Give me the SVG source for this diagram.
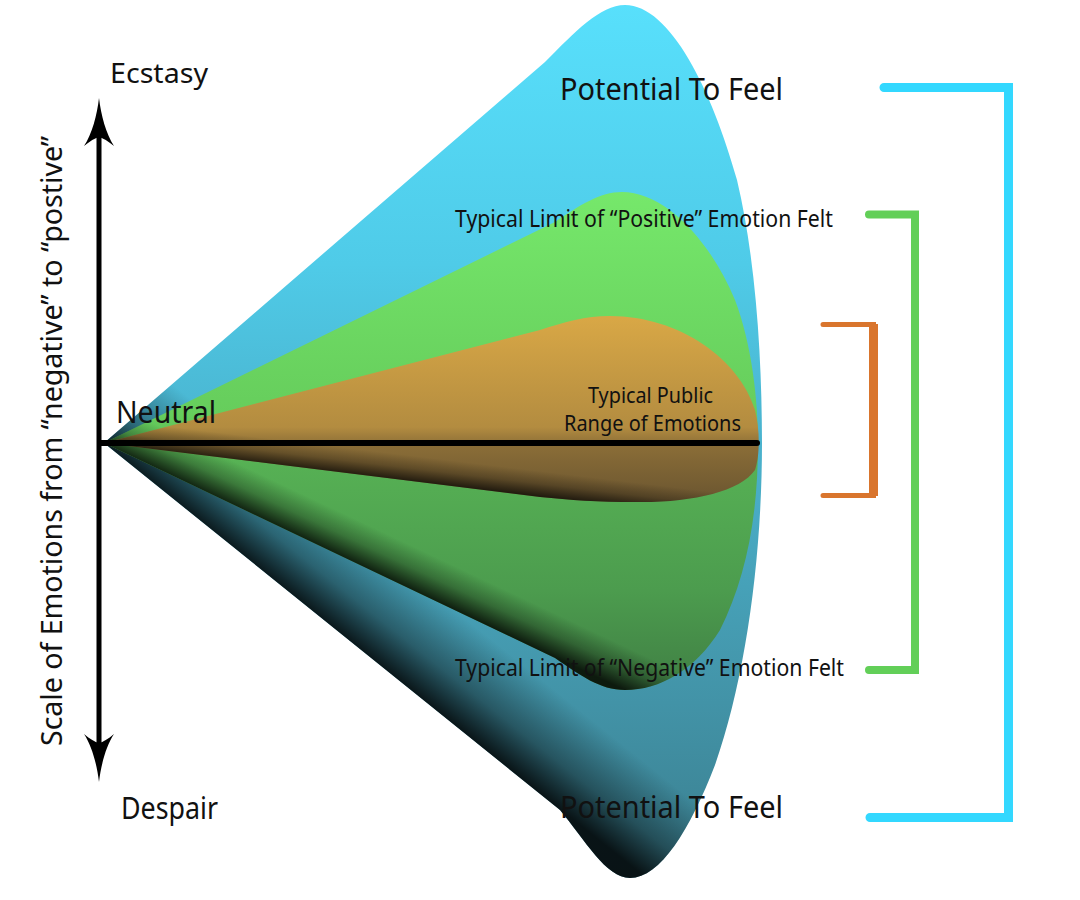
<svg xmlns="http://www.w3.org/2000/svg" width="1080" height="900" viewBox="0 0 1080 900">
  <defs>
    <style>
      .lbl { font-family: "Noto Sans", "Open Sans", "DejaVu Sans", sans-serif; fill: #111; }
      .br { fill: none; stroke-linecap: round; stroke-linejoin: miter; }
    </style>
    <linearGradient id="gBlue" gradientUnits="userSpaceOnUse" x1="0" y1="0" x2="0" y2="880">
      <stop offset="0" stop-color="#58e0fc"/>
      <stop offset="0.3" stop-color="#4fcbe8"/>
      <stop offset="0.5" stop-color="#4ab3ce"/>
      <stop offset="0.75" stop-color="#4498ad"/>
      <stop offset="1" stop-color="#3a7e8e"/>
    </linearGradient>
    <linearGradient id="gGreen" gradientUnits="userSpaceOnUse" x1="0" y1="190" x2="0" y2="690">
      <stop offset="0" stop-color="#76e86b"/>
      <stop offset="0.45" stop-color="#66cd5c"/>
      <stop offset="0.55" stop-color="#56b054"/>
      <stop offset="0.8" stop-color="#4c9c4e"/>
      <stop offset="1" stop-color="#407f44"/>
    </linearGradient>
    <linearGradient id="gOrange" gradientUnits="userSpaceOnUse" x1="0" y1="315" x2="0" y2="502">
      <stop offset="0" stop-color="#d9a846"/>
      <stop offset="0.6" stop-color="#b38c40"/>
      <stop offset="0.7" stop-color="#8a6d37"/>
      <stop offset="1" stop-color="#6a5530"/>
    </linearGradient>
    <linearGradient id="sBlue" gradientUnits="userSpaceOnUse" x1="330" y1="625" x2="386" y2="555">
      <stop offset="0" stop-color="#000" stop-opacity="0.85"/>
      <stop offset="0.4" stop-color="#000" stop-opacity="0.4"/>
      <stop offset="1" stop-color="#000" stop-opacity="0"/>
    </linearGradient>
    <linearGradient id="sGreen" gradientUnits="userSpaceOnUse" x1="330" y1="551" x2="347" y2="515">
      <stop offset="0" stop-color="#000" stop-opacity="0.8"/>
      <stop offset="0.5" stop-color="#000" stop-opacity="0.3"/>
      <stop offset="1" stop-color="#000" stop-opacity="0"/>
    </linearGradient>
    <linearGradient id="sOrange" gradientUnits="userSpaceOnUse" x1="320" y1="470" x2="323" y2="445">
      <stop offset="0" stop-color="#000" stop-opacity="0.7"/>
      <stop offset="0.5" stop-color="#000" stop-opacity="0.25"/>
      <stop offset="1" stop-color="#000" stop-opacity="0"/>
    </linearGradient>
  </defs>

  <rect width="1080" height="900" fill="#ffffff"/>

  <g id="cone-potential">
    <path d="M104,443 L545,62 C575,32 600,5 625,5 C670,5 712,90 737,180 C756,260 762,360 762,443 C762,560 745,680 715,765 C690,830 660,878 630,878 C606,878 585,840 560,810 Z" fill="url(#gBlue)"/>
    <path d="M104,443 L545,62 C575,32 600,5 625,5 C670,5 712,90 737,180 C756,260 762,360 762,443 C762,560 745,680 715,765 C690,830 660,878 630,878 C606,878 585,840 560,810 Z" fill="url(#sBlue)"/>
  </g>

  <g id="cone-typical">
    <path d="M104,443 L555,222 C580,205 600,192 622,192 C665,192 710,240 735,300 C752,345 758,400 758,443 C758,520 745,580 720,630 C695,670 660,690 625,690 C600,690 580,675 555,658 Z" fill="url(#gGreen)"/>
    <path d="M104,443 L555,222 C580,205 600,192 622,192 C665,192 710,240 735,300 C752,345 758,400 758,443 C758,520 745,580 720,630 C695,670 660,690 625,690 C600,690 580,675 555,658 Z" fill="url(#sGreen)"/>
  </g>

  <g id="cone-public">
    <path d="M104,443 L540,330 C565,322 585,316 610,316 C680,316 740,360 755,410 C760,430 760,455 755,470 C740,492 690,503 635,502 C598,502 570,500 540,497 Z" fill="url(#gOrange)"/>
    <path d="M104,443 L540,330 C565,322 585,316 610,316 C680,316 740,360 755,410 C760,430 760,455 755,470 C740,492 690,503 635,502 C598,502 570,500 540,497 Z" fill="url(#sOrange)"/>
  </g>

  <g id="axes">
    <line x1="99" y1="128" x2="99" y2="752" stroke="#000" stroke-width="5"/>
    <path d="M99,98 C101,115 106,134 114,146 C108,141 103,138 99,137 C95,138 90,141 84,146 C92,134 97,115 99,98 Z" fill="#000"/>
    <path d="M99,782 C101,765 106,746 114,734 C108,739 103,742 99,743 C95,742 90,739 84,734 C92,746 97,765 99,782 Z" fill="#000"/>
    <line x1="101" y1="443" x2="757" y2="443" stroke="#000" stroke-width="6" stroke-linecap="round"/>
  </g>

  <g id="brackets">
    <path class="br" d="M884,87.5 H1008.5 V817.5 H870" stroke="#33d8ff" stroke-width="9"/>
    <path class="br" d="M869,214.5 H915 V670 H869" stroke="#62cf58" stroke-width="8"/>
    <path class="br" d="M823,324.5 H873.5 V495.5 H823" stroke="#d9752d" stroke-width="5"/>
    <line x1="873.5" y1="324" x2="873.5" y2="496" stroke="#d9752d" stroke-width="9"/>
  </g>

  <g id="labels">
    <text class="lbl" x="110" y="83" font-size="28" textLength="98" lengthAdjust="spacingAndGlyphs">Ecstasy</text>
    <text class="lbl" x="116" y="423" font-size="30" textLength="100" lengthAdjust="spacingAndGlyphs">Neutral</text>
    <text class="lbl" x="121" y="819" font-size="30" textLength="97" lengthAdjust="spacingAndGlyphs">Despair</text>
    <text class="lbl" x="560" y="100" font-size="31" textLength="223" lengthAdjust="spacingAndGlyphs">Potential To Feel</text>
    <text class="lbl" x="560" y="818" font-size="31" textLength="223" lengthAdjust="spacingAndGlyphs">Potential To Feel</text>
    <text class="lbl" x="455" y="227" font-size="23" textLength="378" lengthAdjust="spacingAndGlyphs">Typical Limit of “Positive” Emotion Felt</text>
    <text class="lbl" x="455" y="676" font-size="23" textLength="389" lengthAdjust="spacingAndGlyphs">Typical Limit of “Negative” Emotion Felt</text>
    <text class="lbl" x="588" y="403" font-size="21" textLength="125" lengthAdjust="spacingAndGlyphs">Typical Public</text>
    <text class="lbl" x="564" y="431" font-size="21" textLength="177" lengthAdjust="spacingAndGlyphs">Range of Emotions</text>
    <text class="lbl" transform="translate(62,746) rotate(-90)" x="0" y="0" font-size="29" textLength="610" lengthAdjust="spacingAndGlyphs">Scale of Emotions from “negative” to “postive”</text>
  </g>
</svg>
